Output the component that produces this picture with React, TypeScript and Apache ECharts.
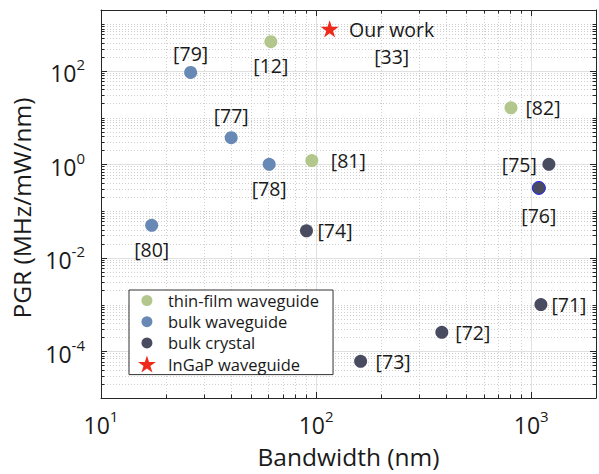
import React, { useEffect, useRef } from 'react';
import * as echarts from 'echarts';

// ---------- data ----------
const thinFilmNames = ['[12]', '[81]', '[82]'];
const thinFilmBandwidth = [61.6, 95.5, 805];
const thinFilmPGR = [420, 1.2, 16.2];

const bulkWgNames = ['[79]', '[77]', '[78]', '[80]'];
const bulkWgBandwidth = [26.1, 40.3, 60.5, 17.2];
const bulkWgPGR = [92.5, 3.7, 1.0, 0.0495];

const bulkCrystalNames = ['[75]', '[76]', '[74]', '[71]', '[72]', '[73]'];
const bulkCrystalBandwidth = [1208, 1085, 90.2, 1109, 384, 161];
const bulkCrystalPGR = [1.0, 0.312, 0.0377, 0.001, 0.000255, 0.000061];

const ingapNames = ['Our work\n[33]'];
const ingapBandwidth = [115.6];
const ingapPGR = [790];

const seriesNames = ['thin-film waveguide', 'bulk waveguide', 'bulk crystal', 'InGaP waveguide'];

const xMin = 10;
const xMax = 2000;
const yMin = 1e-5;
const yMax = 2000;
const xMajorTicks = [10, 100, 1000];
const yMajorTicks = [1e-4, 1e-2, 1, 100];
const xLabelExponents = [1, 2, 3];
const yLabelExponents = [-4, -2, 0, 2];

// ---------- styles ----------
const FONT = 'Open Sans';
const TEXT = '#1a1a1a';
const AXIS = '#262626';
const COLORS = ['#b3c68c', '#6889b5', '#494b61', '#ee2a1b'];

const labelLayout: Record<string, [string, number]> = {
  '[12]': ['bottom', 7],
  '[81]': ['right', 12.5],
  '[82]': ['right', 8],
  '[79]': ['top', 2],
  '[77]': ['top', 6],
  '[78]': ['bottom', 8],
  '[80]': ['bottom', 8],
  '[75]': ['left', 5.5],
  '[76]': ['bottom', 10.5],
  '[74]': ['right', 4.5],
  '[71]': ['right', 4],
  '[72]': ['right', 7],
  '[73]': ['right', 8.5],
};

const STAR =
  'path://M10 0L12.245 6.91L19.511 6.91L13.633 11.18L15.878 18.09L10 13.82L4.122 18.09L6.367 11.18L0.489 6.91L7.755 6.91Z';
const LEGEND_CIRCLE = 'path://M0 0M17 17M14 8.5A5.5 5.5 0 1 1 3 8.5A5.5 5.5 0 1 1 14 8.5Z';

function minorTicks(min: number, max: number, majors: number[]) {
  const out: number[] = [];
  for (let e = Math.floor(Math.log10(min)); e <= Math.ceil(Math.log10(max)); e++) {
    for (let m = 1; m <= 9; m++) {
      const v = m * Math.pow(10, e);
      if (v <= min * 1.0001 || v >= max * 0.9999) continue;
      if (majors.some((t) => Math.abs(t - v) / t < 1e-6)) continue;
      out.push(v);
    }
  }
  return out;
}

function makeLabel(exps: number[]) {
  return (v: number) => {
    const l = Math.log10(v);
    const e = Math.round(l);
    if (Math.abs(l - e) > 1e-6 || !exps.includes(e)) return '';
    return `{b|10}{s|${e}}`;
  };
}

const rich = {
  b: { fontSize: 23, fontFamily: FONT, color: TEXT, lineHeight: 28, verticalAlign: 'bottom' },
  s: { fontSize: 15, fontFamily: FONT, color: TEXT, lineHeight: 22, verticalAlign: 'top' },
};

function points(names: string[], xs: number[], ys: number[]) {
  return names.map((n, i) => {
    const lay = labelLayout[n];
    const item: any = { name: n, value: [xs[i], ys[i]] };
    if (lay) item.label = { position: lay[0], distance: lay[1] };
    if (n === '[76]') item.itemStyle = { borderColor: '#2020ff', borderWidth: 1 };
    return item;
  });
}

export default function App() {
  const ref = useRef<HTMLDivElement>(null);
  useEffect(() => {
    if (!ref.current) return;
    const chart = echarts.init(ref.current, undefined, { renderer: 'svg' });

    const xGrid = [
      ...xMajorTicks.filter((v) => v > xMin && v < xMax).map((v) => [v, 1, 1]),
      ...minorTicks(xMin, xMax, xMajorTicks).map((v) => [v, 1, 0]),
    ];
    const yGrid = [
      ...yMajorTicks.map((v) => [20, v, 1]),
      ...minorTicks(yMin, yMax, yMajorTicks).map((v) => [20, v, 0]),
    ];

    const gridStyle = (major: boolean) =>
      major
        ? { stroke: '#e0e0e0', lineWidth: 1 }
        : { stroke: '#cfcfcf', lineWidth: 1, lineDash: [1, 2] };

    const labelStyle = {
      show: true,
      formatter: '{b}',
      fontSize: 19.5,
      fontFamily: FONT,
      color: TEXT,
    };

    const option: any = {
      animation: false,
      backgroundColor: '#ffffff',
      grid: { left: 101, right: 1, top: 10, bottom: 72 },
      xAxis: [
        {
          type: 'log',
          logBase: 10,
          min: xMin,
          max: xMax,
          position: 'bottom',
          name: 'Bandwidth (nm)',
          nameLocation: 'middle',
          nameGap: 46,
          nameTextStyle: { fontSize: 24.5, fontFamily: FONT, color: TEXT },
          axisLine: { show: true, lineStyle: { color: AXIS, width: 1 } },
          axisTick: { show: false },
          splitLine: { show: false },
          minorTick: { show: false },
          axisLabel: { margin: 10, formatter: makeLabel(xLabelExponents), rich },
        },
        {
          type: 'log',
          logBase: 10,
          min: xMin,
          max: xMax,
          position: 'top',
          axisLine: { show: true, onZero: false, lineStyle: { color: AXIS, width: 1 } },
          axisTick: { show: false },
          splitLine: { show: false },
          axisLabel: { show: false },
        },
      ],
      yAxis: [
        {
          type: 'log',
          logBase: 10,
          min: yMin,
          max: yMax,
          position: 'left',
          name: 'PGR (MHz/mW/nm)',
          nameLocation: 'middle',
          nameGap: 62,
          nameTextStyle: { fontSize: 24.5, fontFamily: FONT, color: TEXT, padding: [0, 8, 0, 0] },
          axisLine: { show: true, lineStyle: { color: AXIS, width: 1 } },
          axisTick: { show: false },
          splitLine: { show: false },
          axisLabel: { margin: 16, formatter: makeLabel(yLabelExponents), rich },
        },
        {
          type: 'log',
          logBase: 10,
          min: yMin,
          max: yMax,
          position: 'right',
          axisLine: { show: true, onZero: false, lineStyle: { color: AXIS, width: 1 } },
          axisTick: { show: false },
          splitLine: { show: false },
          axisLabel: { show: false },
        },
      ],
      legend: {
        orient: 'vertical',
        left: 129,
        top: 290,
        itemWidth: 26,
        itemHeight: 17,
        itemGap: 4.2,
        padding: [2, 14, 2, 9],
        backgroundColor: '#ffffff',
        borderColor: '#333333',
        borderWidth: 1,
        borderRadius: 0,
        selectedMode: false,
        textStyle: {
          fontSize: 16.5,
          fontFamily: FONT,
          color: TEXT,
          lineHeight: 17,
          padding: [0, 0, 0, 3],
        },
        data: [
          { name: seriesNames[0], icon: LEGEND_CIRCLE },
          { name: seriesNames[1], icon: LEGEND_CIRCLE },
          { name: seriesNames[2], icon: LEGEND_CIRCLE },
          { name: seriesNames[3], icon: STAR },
        ],
      },
      series: [
        {
          type: 'custom',
          name: 'xgrid',
          silent: true,
          z: 1,
          xAxisIndex: 0,
          yAxisIndex: 0,
          data: xGrid,
          encode: { x: 0, y: 1 },
          renderItem: (_p: any, api: any) => {
            const v = api.value(0);
            const major = api.value(2) === 1;
            const b = api.coord([v, yMin]);
            const t = api.coord([v, yMax]);
            const x = Math.round(b[0]) + 0.5;
            const tl = major ? 6 : 3.5;
            return {
              type: 'group',
              children: [
                { type: 'line', shape: { x1: x, y1: t[1], x2: x, y2: b[1] }, style: gridStyle(major) },
                { type: 'line', shape: { x1: x, y1: b[1], x2: x, y2: b[1] - tl }, style: { stroke: AXIS, lineWidth: 1 } },
                { type: 'line', shape: { x1: x, y1: t[1], x2: x, y2: t[1] + tl }, style: { stroke: AXIS, lineWidth: 1 } },
              ],
            };
          },
        },
        {
          type: 'custom',
          name: 'ygrid',
          silent: true,
          z: 1,
          xAxisIndex: 0,
          yAxisIndex: 0,
          data: yGrid,
          encode: { x: 0, y: 1 },
          renderItem: (_p: any, api: any) => {
            const v = api.value(1);
            const major = api.value(2) === 1;
            const l = api.coord([xMin, v]);
            const r = api.coord([xMax, v]);
            const y = Math.round(l[1]) + 0.5;
            const tl = major ? 6 : 3.5;
            return {
              type: 'group',
              children: [
                { type: 'line', shape: { x1: l[0], y1: y, x2: r[0], y2: y }, style: gridStyle(major) },
                { type: 'line', shape: { x1: l[0], y1: y, x2: l[0] + tl, y2: y }, style: { stroke: AXIS, lineWidth: 1 } },
                { type: 'line', shape: { x1: r[0], y1: y, x2: r[0] - tl, y2: y }, style: { stroke: AXIS, lineWidth: 1 } },
              ],
            };
          },
        },
        {
          type: 'scatter',
          name: seriesNames[0],
          z: 3,
          symbol: 'circle',
          symbolSize: 13,
          itemStyle: { color: COLORS[0], opacity: 1 },
          label: labelStyle,
          data: points(thinFilmNames, thinFilmBandwidth, thinFilmPGR),
        },
        {
          type: 'scatter',
          name: seriesNames[1],
          z: 3,
          symbol: 'circle',
          symbolSize: 13,
          itemStyle: { color: COLORS[1], opacity: 1 },
          label: labelStyle,
          data: points(bulkWgNames, bulkWgBandwidth, bulkWgPGR),
        },
        {
          type: 'scatter',
          name: seriesNames[2],
          z: 3,
          symbol: 'circle',
          symbolSize: 13,
          itemStyle: { color: COLORS[2], opacity: 1 },
          label: labelStyle,
          data: points(bulkCrystalNames, bulkCrystalBandwidth, bulkCrystalPGR),
        },
        {
          type: 'scatter',
          name: seriesNames[3],
          z: 3,
          symbol: STAR,
          symbolKeepAspect: true,
          symbolSize: 18,
          itemStyle: { color: COLORS[3], opacity: 1 },
          label: {
            ...labelStyle,
            position: 'inside',
            offset: [62, 14],
            align: 'center',
            verticalAlign: 'middle',
            lineHeight: 27,
          },
          data: ingapNames.map((n, i) => ({ name: n, value: [ingapBandwidth[i], ingapPGR[i]] })),
        },
      ],
    };

    chart.setOption(option);
    return () => chart.dispose();
  }, []);

  return (
    <div
      ref={ref}
      style={{ position: 'fixed', left: 0, top: 0, width: 599, height: 474, background: '#fff' }}
    />
  );
}
